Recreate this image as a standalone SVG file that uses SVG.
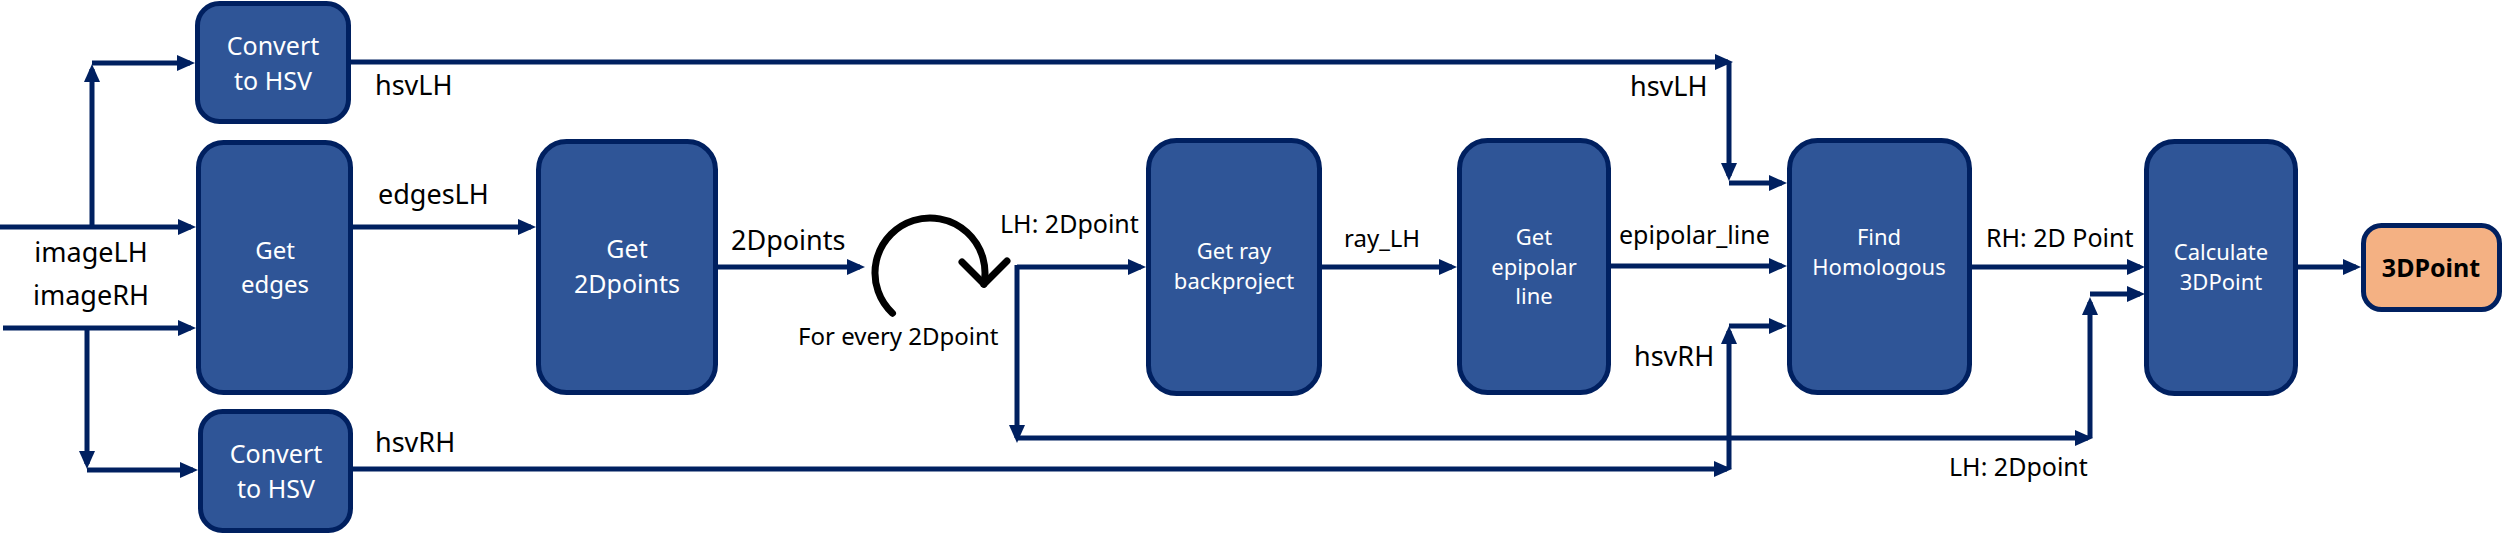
<svg xmlns="http://www.w3.org/2000/svg" width="2503" height="534" viewBox="0 0 2503 534">
<defs>
<style>
.box{fill:#2F5597;stroke:#002060;stroke-width:5}
.out{fill:#F4B183;stroke:#002060;stroke-width:5}
.bt{font-family:"Noto Sans","Open Sans",sans-serif;fill:#FFFFFF;text-anchor:middle}
.lb{font-family:"Noto Sans","Open Sans",sans-serif;fill:#000000}
.ca{fill:none;stroke:#002060;stroke-width:5;marker-end:url(#ah)}
</style>
<marker id="ah" markerUnits="userSpaceOnUse" markerWidth="18" markerHeight="16" refX="13" refY="8" orient="auto">
<path d="M0,0 L18,8 L0,16 z" fill="#002060"/>
</marker>
</defs>
<rect width="2503" height="534" fill="#FFFFFF"/>
<g id="connectors">
<path class="ca" d="M0,227 H191"/>
<path class="ca" d="M3,328 H191"/>
<path class="ca" d="M92,227 V69"/>
<path class="ca" d="M92,63 H190"/>
<path class="ca" d="M87,328 V464"/>
<path class="ca" d="M87,470 H193"/>
<path class="ca" d="M351,62 H1728"/>
<path class="ca" d="M1729,62 V176"/>
<path class="ca" d="M1729,183 H1782"/>
<path class="ca" d="M353,227 H531"/>
<path class="ca" d="M718,267 H860"/>
<path class="ca" d="M1017,267 H1141"/>
<path class="ca" d="M1017,265 V438"/>
<path class="ca" d="M1017,438 H2088"/>
<path class="ca" d="M2090,438 V302"/>
<path class="ca" d="M2090,294 H2140"/>
<path class="ca" d="M1322,267 H1452"/>
<path class="ca" d="M1611,266 H1782"/>
<path class="ca" d="M353,469 H1727"/>
<path class="ca" d="M1729,469 V331"/>
<path class="ca" d="M1729,326 H1782"/>
<path class="ca" d="M1972,267 H2140"/>
<path class="ca" d="M2298,267 H2356"/>
<path d="M892.5,313.2 A55,55 0 1 1 983.8,284.4" fill="none" stroke="#000000" stroke-width="7" stroke-linecap="round"/>
<path d="M962,262 L984,284 L1007,261" fill="none" stroke="#000000" stroke-width="7" stroke-linecap="round" stroke-linejoin="round"/>
</g>
<g id="convertLH">
<rect class="box" x="197.5" y="3.5" width="151" height="118" rx="22"/>
<text class="bt" x="273" y="55" font-size="25">Convert</text>
<text class="bt" x="273" y="90" font-size="25">to HSV</text>
</g>
<g id="getEdges">
<rect class="box" x="198.5" y="142.5" width="152" height="250" rx="25"/>
<text class="bt" x="275" y="259" font-size="24">Get</text>
<text class="bt" x="275" y="293" font-size="24">edges</text>
</g>
<g id="convertRH">
<rect class="box" x="200.5" y="411.5" width="150" height="119" rx="22"/>
<text class="bt" x="276" y="463" font-size="25">Convert</text>
<text class="bt" x="276" y="498" font-size="25">to HSV</text>
</g>
<g id="get2Dpoints">
<rect class="box" x="538.5" y="141.5" width="177" height="251" rx="28"/>
<text class="bt" x="627" y="258" font-size="25">Get</text>
<text class="bt" x="627" y="293" font-size="25">2Dpoints</text>
</g>
<g id="getRay">
<rect class="box" x="1148.5" y="140.5" width="171" height="253" rx="28"/>
<text class="bt" x="1234" y="259" font-size="22">Get ray</text>
<text class="bt" x="1234" y="289" font-size="22">backproject</text>
</g>
<g id="getEpipolar">
<rect class="box" x="1459.5" y="140.5" width="149" height="252" rx="28"/>
<text class="bt" x="1534" y="245" font-size="22">Get</text>
<text class="bt" x="1534" y="275" font-size="22">epipolar</text>
<text class="bt" x="1534" y="304" font-size="22">line</text>
</g>
<g id="findHomologous">
<rect class="box" x="1789.5" y="140.5" width="180" height="252" rx="28"/>
<text class="bt" x="1879" y="245" font-size="22">Find</text>
<text class="bt" x="1879" y="275" font-size="22">Homologous</text>
</g>
<g id="calculate3DPoint">
<rect class="box" x="2146.5" y="141.5" width="149" height="252" rx="28"/>
<text class="bt" x="2221" y="260" font-size="22">Calculate</text>
<text class="bt" x="2221" y="290" font-size="22">3DPoint</text>
</g>
<g id="out3DPoint">
<rect class="out" x="2363.5" y="225.5" width="136" height="84" rx="18"/>
<text x="2431" y="277" font-family="'Noto Sans','Open Sans',sans-serif" font-size="25" font-weight="bold" fill="#000000" text-anchor="middle">3DPoint</text>
</g>
<g id="labels">
<text class="lb" x="91" y="262" font-size="27" text-anchor="middle">imageLH</text>
<text class="lb" x="91" y="305" font-size="27" text-anchor="middle">imageRH</text>
<text class="lb" x="375" y="95" font-size="27">hsvLH</text>
<text class="lb" x="378" y="204" font-size="27">edgesLH</text>
<text class="lb" x="375" y="452" font-size="27">hsvRH</text>
<text class="lb" x="731" y="250" font-size="27">2Dpoints</text>
<text class="lb" x="798" y="345" font-size="24">For every 2Dpoint</text>
<text class="lb" x="1000" y="233" font-size="25">LH: 2Dpoint</text>
<text class="lb" x="1344" y="247" font-size="24">ray_LH</text>
<text class="lb" x="1619" y="244" font-size="25">epipolar_line</text>
<text class="lb" x="1630" y="96" font-size="27">hsvLH</text>
<text class="lb" x="1634" y="366" font-size="27">hsvRH</text>
<text class="lb" x="1986" y="247" font-size="25">RH: 2D Point</text>
<text class="lb" x="1949" y="476" font-size="25">LH: 2Dpoint</text>
</g>
</svg>
